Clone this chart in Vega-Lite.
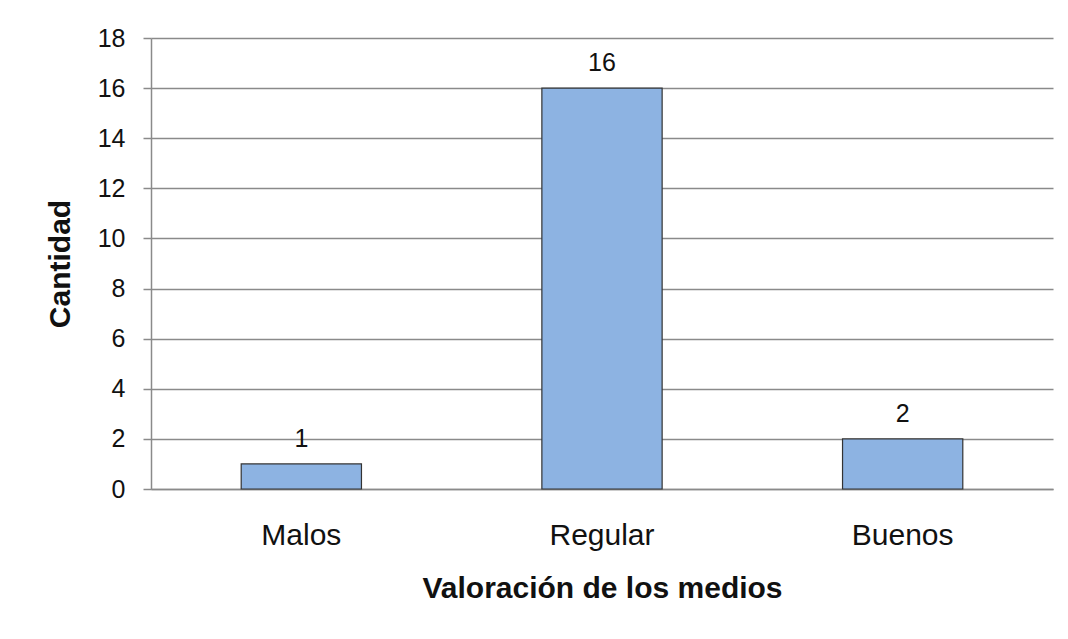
{
  "$schema": "https://vega.github.io/schema/vega-lite/v6.json",
  "width": 902,
  "height": 451,
  "autosize": {"type": "none"},
  "padding": {"left": 151, "top": 38, "right": 15, "bottom": 150},
  "background": "white",
  "config": {
    "view": {"stroke": null},
    "font": "Liberation Sans"
  },
  "data": {
    "values": [
      {"valoracion": "Malos", "cantidad": 1},
      {"valoracion": "Regular", "cantidad": 16},
      {"valoracion": "Buenos", "cantidad": 2}
    ]
  },
  "encoding": {
    "x": {
      "field": "valoracion",
      "type": "nominal",
      "sort": null,
      "scale": {"paddingInner": 0.6, "paddingOuter": 0.3},
      "axis": {
        "title": "Valoración de los medios",
        "titleFont": "Liberation Sans",
        "titleFontSize": 30,
        "titleFontWeight": "bold",
        "titleColor": "#111",
        "titlePadding": 23,
        "labelAngle": 0,
        "labelFontSize": 30,
        "labelColor": "#111",
        "labelPadding": 31,
        "ticks": false,
        "domainColor": "#8a8a8a",
        "domainWidth": 1.5
      }
    },
    "y": {
      "field": "cantidad",
      "type": "quantitative",
      "scale": {"domain": [0, 18]},
      "axis": {
        "title": "Cantidad",
        "titleFont": "Liberation Sans",
        "titleFontSize": 30,
        "titleFontWeight": "bold",
        "titleColor": "#111",
        "titlePadding": 22,
        "values": [0, 2, 4, 6, 8, 10, 12, 14, 16, 18],
        "labelFontSize": 25,
        "labelColor": "#111",
        "labelPadding": 18,
        "tickSize": 8,
        "tickColor": "#8a8a8a",
        "tickWidth": 1.5,
        "domainColor": "#8a8a8a",
        "domainWidth": 1.5,
        "grid": true,
        "gridColor": "#8a8a8a",
        "gridWidth": 1.5
      }
    }
  },
  "layer": [
    {
      "mark": {"type": "bar", "color": "#8db3e2", "stroke": "#333333", "strokeWidth": 1.2}
    },
    {
      "mark": {"type": "text", "baseline": "alphabetic", "dy": -17, "fontSize": 25, "color": "#111"},
      "encoding": {"text": {"field": "cantidad", "type": "quantitative"}}
    }
  ]
}
